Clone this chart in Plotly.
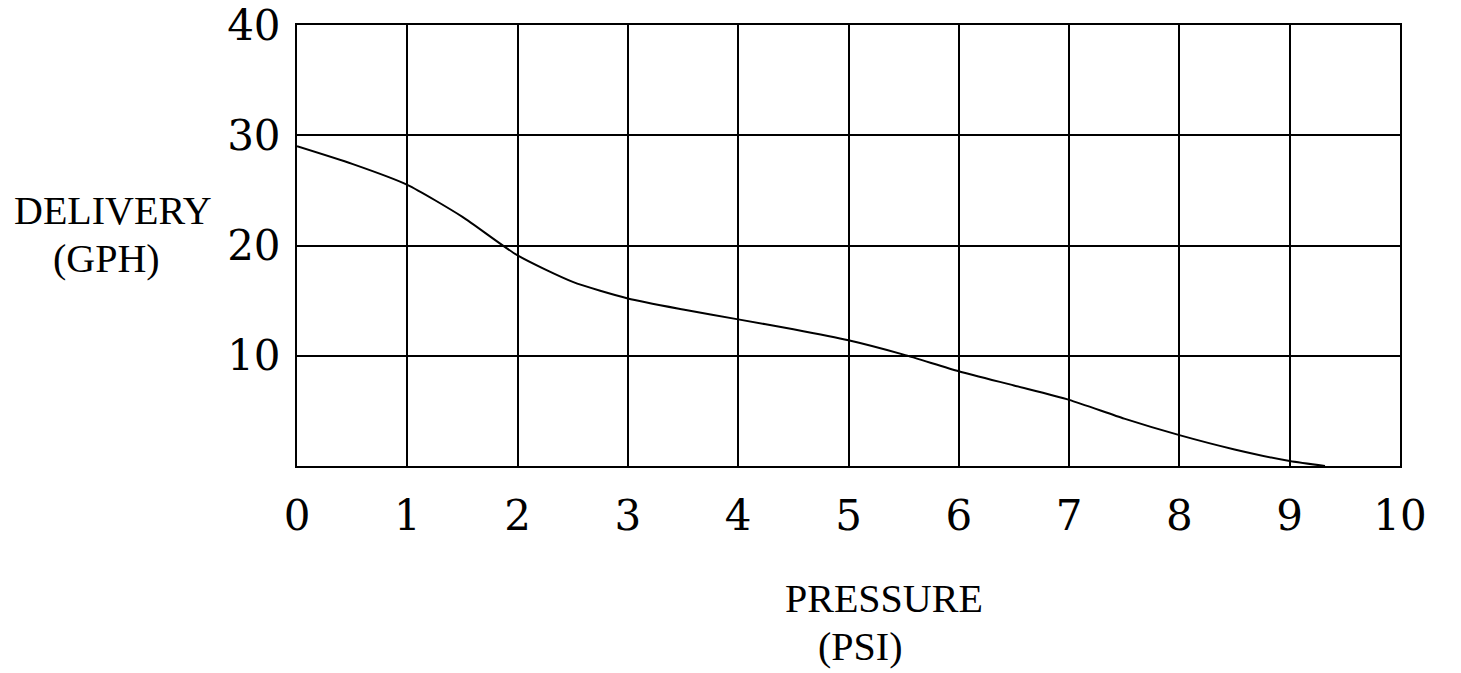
import plotly.graph_objects as go

pressure = [0, 0.5, 1, 1.5, 2, 2.5, 3, 3.5, 4, 4.5, 5, 5.5, 6, 6.5, 7, 7.5, 8, 8.5, 9, 9.32]
delivery = [29.0, 27.4, 25.5, 22.6, 19.1, 16.7, 15.2, 14.2, 13.3, 12.4, 11.4, 10.1, 8.6, 7.3, 6.0, 4.3, 2.8, 1.5, 0.45, 0.0]

x_ticks = list(range(0, 11))
x_ticktext = [str(v) for v in x_ticks]
y_ticks = [10, 20, 30, 40]
y_ticktext = [str(v) for v in y_ticks]

tick_font = dict(family="DejaVu Serif", size=42, color="black")
title_font = dict(family="Liberation Serif", size=40, color="black")

fig = go.Figure()
fig.add_trace(go.Scatter(x=pressure, y=delivery, mode="lines",
                         line=dict(color="black", width=2, shape="spline", smoothing=0.6),
                         showlegend=False, hoverinfo="skip"))

def ann(text, x, y):
    return dict(text=text, xref="paper", yref="paper", x=x, y=y,
                xanchor="center", yanchor="middle", showarrow=False, font=title_font)

fig.update_layout(
    width=1461, height=673,
    margin=dict(l=289, r=69, t=17, b=215, autoexpand=False),
    paper_bgcolor="white", plot_bgcolor="white",
    xaxis=dict(range=[0, 10], tickvals=x_ticks, ticktext=x_ticktext,
               showgrid=True, gridcolor="black", gridwidth=2,
               showline=True, linecolor="black", linewidth=2, mirror=True,
               zeroline=False, ticks="", tickfont=tick_font, ticklabelstandoff=12,
               automargin=False, ticklabeloverflow="allow"),
    yaxis=dict(range=[0, 40], tickvals=y_ticks, ticktext=y_ticktext,
               showgrid=True, gridcolor="black", gridwidth=2,
               showline=True, linecolor="black", linewidth=2, mirror=True,
               zeroline=False, ticks="", tickfont=tick_font, ticklabelstandoff=6,
               automargin=False, ticklabeloverflow="allow"),
    annotations=[
        ann("DELIVERY", -0.167, 0.58),
        ann("(GPH)", -0.173, 0.47),
        ann("PRESSURE", 0.532, -0.30),
        ann("(PSI)", 0.510, -0.41),
    ],
)

fig.write_html("out.html")
